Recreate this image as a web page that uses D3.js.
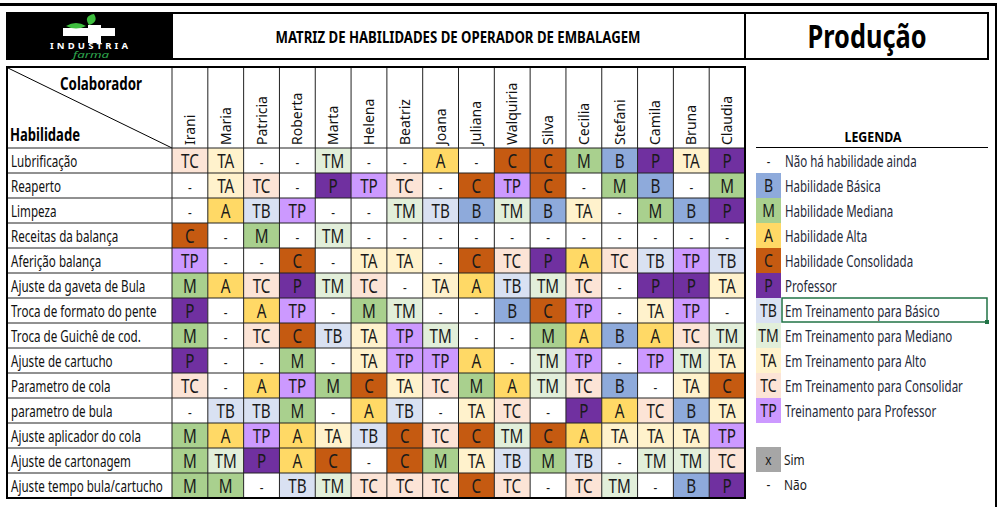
<!DOCTYPE html>
<html><head><meta charset="utf-8">
<script src="https://cdn.jsdelivr.net/npm/d3@7"></script>
<style>
html,body{margin:0;padding:0;background:#fff;}
svg{display:block;}
text{font-family:"Noto Sans",sans-serif;}
</style></head>
<body>
<svg id="chart" width="1000" height="507"></svg>
<script>
const collaborators = ["Irani","Maria","Patricia","Roberta","Marta","Helena","Beatriz","Joana","Juliana","Walquiria","Silva","Cecilia","Stefani","Camila","Bruna","Claudia"];
const skills = ["Lubrificação","Reaperto","Limpeza","Receitas da balança","Aferição balança","Ajuste da gaveta de Bula","Troca de formato do pente","Troca de Guichê de cod.","Ajuste de cartucho","Parametro de cola","parametro de bula","Ajuste aplicador do cola","Ajuste de cartonagem","Ajuste tempo bula/cartucho"];
const levels = [
  ["TC","TA","-","-","TM","-","-","A","-","C","C","M","B","P","TA","P"],
  ["-","TA","TC","-","P","TP","TC","-","C","TP","C","-","M","B","-","M"],
  ["-","A","TB","TP","-","-","TM","TB","B","TM","B","TA","-","M","B","P"],
  ["C","-","M","-","TM","-","-","-","-","-","-","-","-","-","-","-"],
  ["TP","-","-","C","-","TA","TA","-","C","TC","P","A","TC","TB","TP","TB"],
  ["M","A","TC","P","TM","TC","-","TA","A","TB","TM","TC","-","P","P","TA"],
  ["P","-","A","TP","-","M","TM","-","-","B","C","TP","-","TA","TP","-"],
  ["M","-","TC","C","TB","TA","TP","TM","-","-","M","A","B","A","TC","TM"],
  ["P","-","-","M","-","TA","TP","TP","A","-","TM","TP","-","TP","TM","TA"],
  ["TC","-","A","TP","M","C","TA","TC","M","A","TM","TC","B","-","TA","C"],
  ["-","TB","TB","M","-","A","TB","-","TA","TC","-","P","A","TC","B","TA"],
  ["M","A","TP","A","TA","TB","C","TC","C","TM","C","A","TA","TA","TA","TP"],
  ["M","TM","P","A","C","-","C","M","TA","TB","M","TB","-","TM","TM","TC"],
  ["M","M","-","TB","TM","TC","TC","TC","C","TC","-","TC","TM","-","B","P"]
];
const legendCodes = ["-","B","M","A","C","P","TB","TM","TA","TC","TP"];
const legendLabels = ["Não há habilidade ainda","Habilidade Básica","Habilidade Mediana","Habilidade Alta","Habilidade Consolidada","Professor","Em Treinamento para Básico","Em Treinamento para Mediano","Em Treinamento para Alto","Em Treinamento para Consolidar","Treinamento para Professor"];
const yesNoCodes = ["X","-"];
const yesNoLabels = ["Sim","Não"];
const title = "MATRIZ DE HABILIDADES DE OPERADOR DE EMBALAGEM";
const sector = "Produção";

const color = d3.scaleOrdinal()
  .domain(["-","B","M","A","C","P","TB","TM","TA","TC","TP","X"])
  .range(["#ffffff","#8eaadb","#a9d08e","#ffd966","#c55a11","#7030a0","#d9e1f2","#e2efda","#fff2cc","#fce4d6","#cc99ff","#a6a6a6"]);

const svg = d3.select("#chart");
const x = d3.scaleBand().domain(collaborators).range([172, 745]);
const y = d3.scaleBand().domain(skills).range([148, 498]);
const headTop = 67;

function condensed(sel, sx){
  sel.attr("transform", function(){
    const t = this.__pos; return `translate(${t[0]},${t[1]}) scale(${sx},1)`;
  });
}

// outer frame
svg.append("line").attr("x1",0).attr("x2",997).attr("y1",4.5).attr("y2",4.5).attr("stroke","#000").attr("stroke-width",3);
svg.append("line").attr("x1",996).attr("x2",996).attr("y1",4).attr("y2",507).attr("stroke","#000").attr("stroke-width",2);

// header boxes
svg.append("rect").attr("x",8).attr("y",14).attr("width",164).attr("height",45).attr("fill","#000");
svg.append("rect").attr("x",7).attr("y",13).attr("width",981).attr("height",46).attr("fill","none").attr("stroke","#000").attr("stroke-width",2);
svg.append("line").attr("x1",172).attr("x2",172).attr("y1",13).attr("y2",59).attr("stroke","#000").attr("stroke-width",2);
svg.append("line").attr("x1",745).attr("x2",745).attr("y1",13).attr("y2",59).attr("stroke","#000").attr("stroke-width",2);
svg.append("text").attr("x",458).attr("y",43).attr("text-anchor","middle").attr("font-weight","bold").attr("font-size",16.5)
  .attr("font-family","'Liberation Sans',Arial,sans-serif").attr("textLength",365).attr("lengthAdjust","spacingAndGlyphs").text(title);
svg.append("text").attr("x",867).attr("y",48).attr("text-anchor","middle").attr("font-weight","bold").attr("font-size",33).attr("font-family","'Open Sans',sans-serif").attr("textLength",119).attr("lengthAdjust","spacingAndGlyphs").text(sector);

// logo
const logo = svg.append("g");
logo.append("path").attr("d","M63,28 h25 v-3 h13 v3 h14 v8 h-14 v7 h-13 v-7 h-25 z").attr("fill","#fff");
logo.append("path").attr("d","M86,26 q-10,-6 -20,0 q10,5 20,0 z").attr("fill","#3fbf3f");
logo.append("path").attr("d","M89,25 q-6,-9 5,-11 q5,8 -5,11 z").attr("fill","#3fbf3f");
logo.append("text").attr("x",50).attr("y",49).attr("fill","#fff").attr("font-weight","bold").attr("font-size",9.5).attr("font-family","'DejaVu Sans',sans-serif").attr("textLength",78).attr("lengthAdjust","spacing").text("INDUSTRIA");
logo.append("text").attr("x",91).attr("y",57.5).attr("text-anchor","middle").attr("fill","#2fa84f").attr("font-style","italic").attr("font-size",8.5).attr("font-family","'DejaVu Serif',serif").attr("textLength",36).attr("lengthAdjust","spacingAndGlyphs").text("farma");

// table header
const tb = svg.append("g");
tb.append("line").attr("x1",8).attr("y1",headTop+1).attr("x2",172).attr("y2",148).attr("stroke","#000").attr("stroke-width",1);
tb.append("text").attr("x",60).attr("y",90).attr("font-weight","bold").attr("font-size",17).attr("textLength",82).attr("lengthAdjust","spacingAndGlyphs").text("Colaborador");
tb.append("text").attr("x",10).attr("y",141).attr("font-weight","bold").attr("font-size",17).attr("textLength",70).attr("lengthAdjust","spacingAndGlyphs").text("Habilidade");

tb.selectAll(".colname").data(collaborators).join("text")
  .attr("class","colname")
  .attr("transform",d=>`translate(${x(d)+x.bandwidth()/2+5},145) rotate(-90)`)
  .attr("font-size",14).attr("font-family","'Open Sans',sans-serif").attr("fill","#111")
  .text(d=>d);

// row labels
const rl = tb.selectAll(".rowname").data(skills).join("text")
  .attr("class","rowname")
  .each(function(d){ this.__pos=[11, y(d)+y.bandwidth()/2+6.5]; })
  .attr("font-size",17).attr("fill","#111")
  .text(d=>d);
const rlMax = d3.max(rl.nodes(), n=>n.getComputedTextLength());
condensed(rl, 152/rlMax);

// cells
const cells = [];
levels.forEach((row,i)=>row.forEach((v,j)=>cells.push({skill:skills[i],col:collaborators[j],v})));
const cg = svg.append("g");
cg.selectAll("rect").data(cells).join("rect")
  .attr("x",d=>x(d.col)).attr("y",d=>y(d.skill))
  .attr("width",x.bandwidth()).attr("height",y.bandwidth())
  .attr("fill",d=>color(d.v));
const ct = cg.selectAll("text").data(cells).join("text")
  .each(function(d){ this.__pos=[x(d.col)+x.bandwidth()/2, y(d.skill)+y.bandwidth()/2+7]; })
  .attr("text-anchor","middle").attr("font-size",d=>d.v==="-"?15:19.5).attr("fill","#1a1a1a")
  .text(d=>d.v);
condensed(ct, 0.78);

// grid
const grid = svg.append("g").attr("stroke","#222").attr("stroke-width",1);
x.domain().forEach(d=>grid.append("line").attr("x1",x(d)).attr("x2",x(d)).attr("y1",headTop).attr("y2",498));
y.domain().forEach(d=>grid.append("line").attr("x1",7).attr("x2",745).attr("y1",y(d)).attr("y2",y(d)));
svg.append("rect").attr("x",7).attr("y",headTop).attr("width",738).attr("height",498-headTop).attr("fill","none").attr("stroke","#000").attr("stroke-width",2);

// legend
const lg = svg.append("g");
lg.append("text").attr("x",873).attr("y",142).attr("text-anchor","middle").attr("font-weight","bold").attr("font-size",15).attr("textLength",57).attr("lengthAdjust","spacingAndGlyphs").text("LEGENDA");
lg.append("line").attr("x1",756).attr("x2",988).attr("y1",147.5).attr("y2",147.5).attr("stroke","#000").attr("stroke-width",1);
const ly = d3.scaleBand().domain(legendCodes).range([148, 148+25*legendCodes.length]);
lg.selectAll(".sw").data(legendCodes).join("rect").attr("class","sw")
  .attr("x",756).attr("y",d=>ly(d)).attr("width",25).attr("height",ly.bandwidth())
  .attr("fill",d=>color(d));
const st = lg.selectAll(".swt").data(legendCodes).join("text").attr("class","swt")
  .each(function(d){ this.__pos=[768.5, ly(d)+ly.bandwidth()/2+6.5]; })
  .attr("text-anchor","middle")
  .attr("font-size",d=>d==="-"?14:18).attr("fill","#1a1a1a").text(d=>d);
condensed(st, 0.78);
const ll = lg.selectAll(".lbl").data(legendLabels).join("text").attr("class","lbl")
  .each(function(d,i){ this.__pos=[785, ly(legendCodes[i])+ly.bandwidth()/2+6]; })
  .attr("font-size",16).attr("fill","#1f2a3a").text(d=>d);
const llMax = d3.max(ll.nodes(), n=>n.getComputedTextLength());
condensed(ll, 178/llMax);
lg.append("rect").attr("x",782).attr("y",ly("TB")).attr("width",205).attr("height",24).attr("fill","none").attr("stroke","#217346").attr("stroke-width",1.5);
lg.append("rect").attr("x",985).attr("y",ly("TB")+22).attr("width",4).attr("height",4).attr("fill","#217346");

const yy = d3.scaleBand().domain(yesNoCodes).range([447, 497]);
lg.selectAll(".yn").data(yesNoCodes).join("rect").attr("class","yn")
  .attr("x",756).attr("y",d=>yy(d)).attr("width",25).attr("height",yy.bandwidth())
  .attr("fill",d=>d==="X"?color(d):"#fff");
const yt = lg.selectAll(".ynt").data(yesNoCodes).join("text").attr("class","ynt")
  .each(function(d){ this.__pos=[768.5, yy(d)+yy.bandwidth()/2+5]; })
  .attr("text-anchor","middle")
  .attr("font-size",14).attr("fill","#1a1a1a").text(d=>d==="X"?"x":d);
condensed(yt, 0.85);
const yl = lg.selectAll(".ynl").data(yesNoLabels).join("text").attr("class","ynl")
  .each(function(d,i){ this.__pos=[784, yy(yesNoCodes[i])+yy.bandwidth()/2+5]; })
  .attr("font-size",14).attr("fill","#1a1a1a").text(d=>d);
condensed(yl, 0.85);
</script>
</body></html>
